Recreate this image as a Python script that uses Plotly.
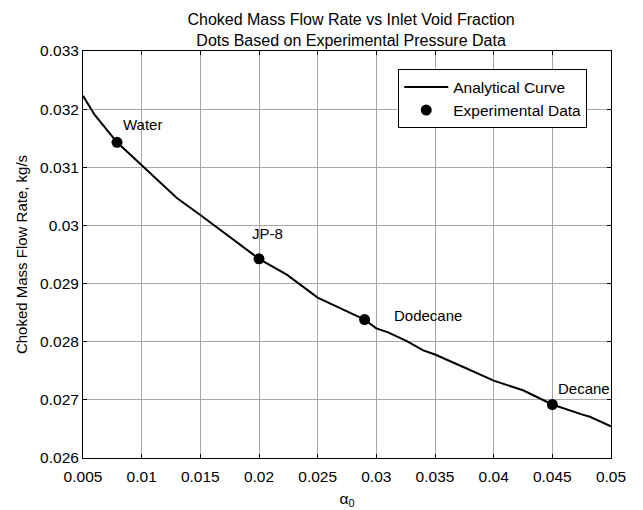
import plotly.graph_objects as go

# Analytical choked mass flow rate curve (kg/s) vs inlet void fraction
alpha_curve = [0.005, 0.006, 0.0079, 0.010, 0.011, 0.013, 0.015, 0.016, 0.018,
               0.020, 0.0224, 0.025, 0.029, 0.030, 0.031, 0.0326, 0.034, 0.035,
               0.0377, 0.040, 0.0425, 0.045, 0.0475, 0.0482, 0.050]
mdot_curve = [0.03223, 0.03190, 0.03143, 0.03104, 0.03084, 0.03047, 0.03018, 0.03003, 0.02973,
              0.029425, 0.02915, 0.02876, 0.02838, 0.02823, 0.02816, 0.02801, 0.02785, 0.02778,
              0.02754, 0.02733, 0.027165, 0.02692, 0.02675, 0.02671, 0.026546]

# Experimental points
fluids = ["Water", "JP-8", "Dodecane", "Decane"]
alpha_exp = [0.0079, 0.020, 0.029, 0.045]
mdot_exp = [0.03143, 0.029425, 0.02838, 0.02692]

x_ticks = [0.005, 0.01, 0.015, 0.02, 0.025, 0.03, 0.035, 0.04, 0.045, 0.05]
x_tick_text = ["0.005", "0.01", "0.015", "0.02", "0.025", "0.03", "0.035", "0.04", "0.045", "0.05"]
y_ticks = [0.026, 0.027, 0.028, 0.029, 0.030, 0.031, 0.032, 0.033]
y_tick_text = ["0.026", "0.027", "0.028", "0.029", "0.03", "0.031", "0.032", "0.033"]

FONT = "Liberation Sans, Arial, Helvetica, sans-serif"

fig = go.Figure()
fig.add_trace(go.Scatter(
    x=alpha_curve, y=mdot_curve, mode="lines", name="Analytical Curve",
    line=dict(color="black", width=2),
))
fig.add_trace(go.Scatter(
    x=alpha_exp, y=mdot_exp, mode="markers", name="Experimental Data",
    marker=dict(color="black", size=11),
))

# Fluid labels next to each experimental point (pixel offsets)
label_offsets = {"Water": (4, 18), "JP-8": (-9, 25), "Dodecane": (27, 4), "Decane": (4, 16)}
for name, xa, ya in zip(fluids, alpha_exp, mdot_exp):
    dx, dy = label_offsets[name]
    fig.add_annotation(
        x=xa, y=ya, text=name, showarrow=False, xanchor="left", yanchor="middle",
        xshift=dx, yshift=dy, font=dict(family=FONT, size=15, color="black"),
    )

axis_common = dict(
    showline=True, linecolor="black", linewidth=1, mirror="ticks",
    ticks="inside", ticklen=4, tickcolor="black", tickwidth=1,
    showgrid=True, gridcolor="#a8a8a8", gridwidth=1, zeroline=False,
    tickfont=dict(family=FONT, size=15.5, color="black"),
    automargin=False,
)

fig.update_layout(
    width=643, height=510,
    margin=dict(l=83, r=32, t=51, b=52),
    paper_bgcolor="white", plot_bgcolor="white",
    font=dict(family=FONT, size=15, color="black"),
    title=dict(
        text="Choked Mass Flow Rate vs Inlet Void Fraction<br>Dots Based on Experimental Pressure Data",
        x=0.546, xanchor="center", yref="container", y=0.951, yanchor="middle",
        font=dict(family=FONT, size=16, color="black"),
    ),
    xaxis=dict(
        range=[0.005, 0.05], tickvals=x_ticks, ticktext=x_tick_text,
        ticklabelstandoff=4,
        title=dict(text="α<sub>0</sub>", font=dict(family=FONT, size=15.5), standoff=9),
        **axis_common,
    ),
    yaxis=dict(
        range=[0.026, 0.033], tickvals=y_ticks, ticktext=y_tick_text,
        title=dict(text="Choked Mass Flow Rate, kg/s", font=dict(family=FONT, size=15), standoff=8),
        **axis_common,
    ),
    showlegend=True,
    legend=dict(
        x=0.955, xanchor="right", y=0.955, yanchor="top",
        bgcolor="white", bordercolor="black", borderwidth=1,
        font=dict(family=FONT, size=15.5, color="black"),
        itemwidth=44, tracegroupgap=0,
    ),
)

fig.write_html("out.html")
